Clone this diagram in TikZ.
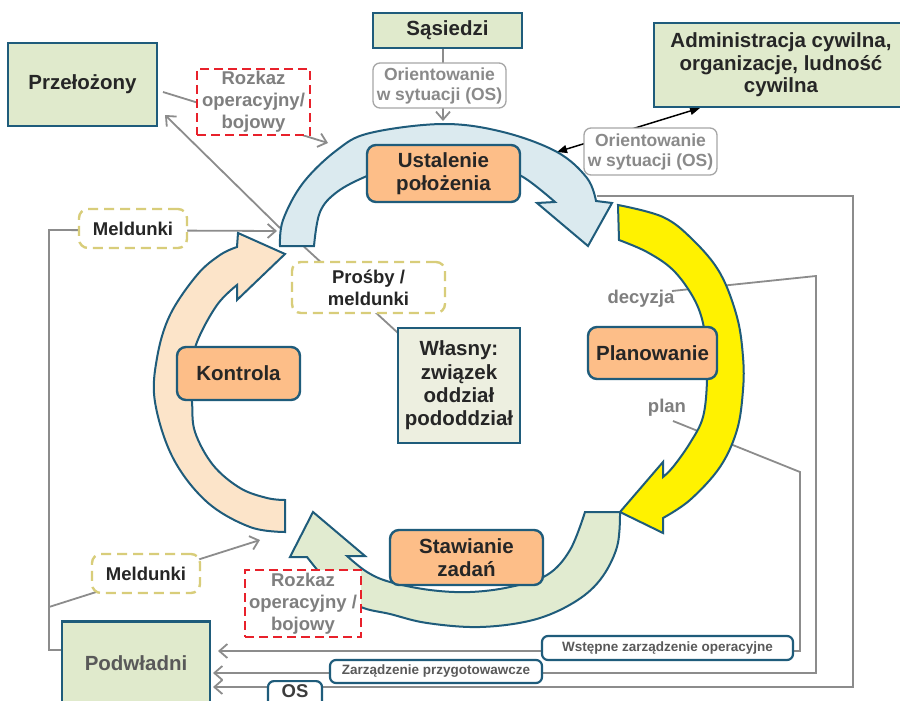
\documentclass[tikz,border=0pt]{standalone}
\usepackage{fontspec}
\setmainfont{Liberation Sans}
\usetikzlibrary{arrows.meta}
\definecolor{tealB}{HTML}{1F5C7B}
\definecolor{boxG}{HTML}{E0EACC}
\definecolor{ownF}{HTML}{EDEFE0}
\definecolor{stageO}{HTML}{FDBE88}
\definecolor{arrB}{HTML}{DBEAEF}
\definecolor{arrY}{HTML}{FFF200}
\definecolor{arrG}{HTML}{E1EBD0}
\definecolor{arrP}{HTML}{FCE4C9}
\definecolor{lineG}{HTML}{8C8C8C}
\definecolor{redD}{HTML}{E8212B}
\definecolor{yelD}{HTML}{D8CD7A}
\definecolor{txtD}{HTML}{262626}
\definecolor{txtG}{HTML}{7F7F7F}
\definecolor{txtL}{HTML}{8A8A8A}
\definecolor{txtM}{HTML}{595959}
\definecolor{osGray}{HTML}{A6A6A6}
\newcommand{\FntBig}{\bfseries\fontsize{20.5}{22.5}\selectfont}
\newcommand{\FntOwn}{\bfseries\fontsize{20.5}{23.3}\selectfont}
\newcommand{\FntMid}{\bfseries\fontsize{18.5}{22}\selectfont}
\newcommand{\FntOSL}{\bfseries\fontsize{17.5}{20}\selectfont}
\newcommand{\FntSml}{\bfseries\fontsize{13.5}{15}\selectfont}
\tikzset{
  entity/.style={draw=tealB, line width=2.8pt, fill=boxG, inner sep=0pt, align=center, font=\FntBig, text=txtD},
  stagebox/.style={draw=tealB, line width=2.4pt, fill=stageO, rounded corners=9pt, inner sep=0pt, align=center, font=\FntBig, text=txtD},
  oslabel/.style={draw=osGray, line width=1.3pt, fill=white, rounded corners=7pt, inner sep=0pt, align=center, font=\FntOSL, text=txtL},
  reddash/.style={draw=redD, line width=2.4pt, dash pattern=on 9pt off 5pt, fill=white, inner sep=0pt, align=center, font=\FntMid, text=txtG},
  yeldash/.style={draw=yelD, line width=2.4pt, dash pattern=on 10pt off 6pt, fill=white, rounded corners=9pt, inner sep=0pt, align=center, font=\FntMid, text=txtD},
  orderbox/.style={draw=tealB, line width=2.2pt, fill=white, rounded corners=6pt, inner sep=0pt, align=center, font=\FntSml, text=txtM},
  ringarrow/.style={draw=tealB, line width=2pt, line join=miter},
  conn/.style={draw=lineG, line width=1.8pt},
  connarrow/.style={conn, -{Straight Barb[length=8pt,width=14pt]}},
  freelabel/.style={inner sep=0pt, font=\FntMid, text=txtG},
}
\begin{document}
\begin{tikzpicture}[x=1pt,y=-1pt]
\useasboundingbox (0,0) rectangle (900,701);
\clip (0,0) rectangle (900,701);
\fill[white] (0,0) rectangle (900,701);

% ---------- free connector ends ----------
\coordinate (blueL) at (280,228);
\coordinate (przTip) at (165,115);
\coordinate (przR) at (163,92);
\coordinate (blueTop1) at (328,143);
\coordinate (sasB) at (443,48);
\coordinate (blueTop2) at (443,121);
\coordinate (blueR) at (557,152);
\coordinate (adminB) at (700,108);
\coordinate (blueHead) at (597,196);
\coordinate (osC1) at (853,196);
\coordinate (osC2) at (853,687);
\coordinate (podwOS) at (213,687);
\coordinate (decL) at (672,291);
\coordinate (decC1) at (816,276);
\coordinate (decC2) at (816,673);
\coordinate (podwZP) at (213,673);
\coordinate (planL) at (673,421);
\coordinate (planC1) at (800,472);
\coordinate (planC2) at (800,651);
\coordinate (podwWZ) at (218,651);
\coordinate (podwL) at (62,650);
\coordinate (leftC1) at (49,650);
\coordinate (leftC2) at (49,230);
\coordinate (blueL2) at (277,231);
\coordinate (leftM) at (49,607);
\coordinate (kontrTip) at (260,540);
\coordinate (blueIn) at (300,243);
\coordinate (ownNW) at (398,333);

% ---------- connectors (behind) ----------
\draw[connarrow] (blueL) -- (przTip);
\draw[connarrow] (przR) -- (blueTop1);
\draw[connarrow] (sasB) -- (blueTop2);
\draw[black, line width=1.5pt, {Triangle[length=10pt,width=8pt]}-{Triangle[length=10pt,width=8pt]}] (blueR) -- (adminB);
\draw[connarrow] (blueHead) -- (osC1) -- (osC2) -- (podwOS);
\draw[connarrow] (decL) -- (decC1) -- (decC2) -- (podwZP);
\draw[connarrow] (planL) -- (planC1) -- (planC2) -- (podwWZ);
\draw[connarrow] (podwL) -- (leftC1) -- (leftC2) -- (blueL2);
\draw[connarrow] (leftM) -- (kontrTip);
\draw[conn] (blueIn) -- (ownNW);

% ---------- ring arrows ----------
% Ustalenie polozenia (blue)
\path[ringarrow, fill=arrB]
  plot[smooth, tension=0.6] coordinates {(280,246) (283,220) (303,183) (337,150) (370,133) (443,124) (503,132) (557,152) (587,178) (596,201)}
  -- (612,203) -- (588,246) -- (537,203)
  -- plot[smooth, tension=0.6] coordinates {(555,202) (523,177) (490,164) (445,160) (400,165) (367,176) (337,192) (320,212) (314,246)}
  -- cycle;
% Planowanie (yellow)
\path[ringarrow, fill=arrY]
  plot[smooth, tension=0.6] coordinates {(618,205) (663,217) (693,240) (720,273) (737,317) (743,357) (743,390) (737,430) (720,467) (690,500) (663,518)}
  -- (663,533) -- (620,512) -- (663,462)
  -- plot[smooth, tension=0.6] coordinates {(663,477) (673,467) (690,443) (703,417) (707,380) (705,350) (703,323) (693,297) (673,270) (647,252) (619,240)}
  -- cycle;
% Stawianie zadan (green)
\path[ringarrow, fill=arrG]
  plot[smooth, tension=0.6] coordinates {(620,512) (617,547) (600,580) (573,603) (533,620) (480,627) (427,623) (390,614) (361,607) (335,590) (307,557)}
  -- (290,557) -- (313,512) -- (365,556)
  -- plot[smooth, tension=0.6] coordinates {(347,556) (367,572) (390,582) (430,590) (470,592) (510,587) (547,575) (570,550) (585,512)}
  -- cycle;
% Kontrola (peach)
\path[ringarrow, fill=arrP]
  plot[smooth, tension=0.6] coordinates {(285,532) (250,527) (207,502) (173,458) (155,402) (157,358) (170,315) (197,275) (220,255) (237,247)}
  -- (238,233) -- (285,254) -- (237,300)
  -- plot[smooth, tension=0.6] coordinates {(237,285) (217,305) (197,342) (190,375) (192,402) (195,432) (213,465) (240,488) (267,498) (285,500)}
  -- cycle;

% ---------- entity boxes ----------
\node[entity, minimum width=149, minimum height=83] (przel) at (82.5,84.5) {Przełożony};
\node[entity, minimum width=149, minimum height=35] (sas) at (447.5,30.5) {Sąsiedzi};
\node[entity, minimum width=254, minimum height=84] (admin) at (781,65) {Administracja cywilna,\\organizacje, ludność\\cywilna};
\node[entity, anchor=north, minimum width=148, text height=49pt, text depth=41pt, text=txtM] (podw) at (136,620) {Podwładni};
\node[entity, fill=ownF, font=\FntOwn, minimum width=122, minimum height=115] (own) at (459,385.5) {Własny:\\związek\\oddział\\pododdział};

% ---------- stage boxes ----------
\node[stagebox, minimum width=153, minimum height=57] (ustal) at (443.5,173.5) {Ustalenie\\położenia};
\node[stagebox, minimum width=129, minimum height=52] (plan) at (652.5,353) {Planowanie};
\node[stagebox, minimum width=123, minimum height=53] (kontr) at (238.5,373.5) {Kontrola};
\node[stagebox, minimum width=153, minimum height=55] (staw) at (466.5,557.5) {Stawianie\\zadań};

% ---------- labels ----------
\node[oslabel, minimum width=133, minimum height=45] (osTop) at (439.5,85.5) {Orientowanie\\w sytuacji (OS)};
\node[oslabel, minimum width=133, minimum height=47] (osRight) at (650.5,151.5) {Orientowanie\\w sytuacji (OS)};
\node[reddash, minimum width=113, minimum height=66] (rozTop) at (253.5,102) {Rozkaz\\operacyjny/\\bojowy};
\node[reddash, minimum width=116, minimum height=67] (rozBot) at (303,603.5) {Rozkaz\\operacyjny /\\bojowy};
\node[yeldash, minimum width=108, minimum height=39] (melTop) at (133,228.5) {Meldunki};
\node[yeldash, minimum width=108, minimum height=39] (melBot) at (146,573.5) {Meldunki};
\node[yeldash, minimum width=153, minimum height=51] (prosby) at (368.5,287.5) {Prośby /\\meldunki};
\node[freelabel] (decyzja) at (641,299) {decyzja};
\node[freelabel] (planlab) at (667,408) {plan};
\node[orderbox, minimum width=251, minimum height=24] (wstep) at (667.5,648) {Wstępne zarządzenie operacyjne};
\node[orderbox, minimum width=212, minimum height=23] (zarz) at (436,671.5) {Zarządzenie przygotowawcze};
\node[orderbox, anchor=north, minimum width=54, text height=16.5pt, text depth=17pt, font=\bfseries\fontsize{18.5}{20}\selectfont, text=txtD!90] (osBot) at (295,680) {OS};
\end{tikzpicture}
\end{document}
